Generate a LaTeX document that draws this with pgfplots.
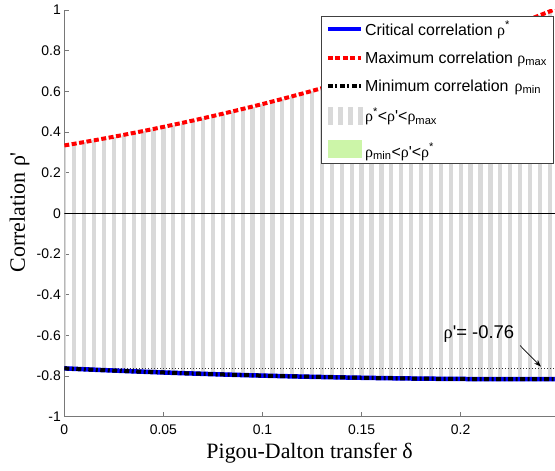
\documentclass[border=0pt]{standalone}
\usepackage{fontspec}
\setmainfont{Liberation Sans}
\newfontfamily\tnr{Liberation Serif}
\usepackage{pgfplots}
\pgfplotsset{compat=1.18}
\usepackage{pgfplotstable}
\usetikzlibrary{calc, arrows.meta}

\definecolor{stripe}{RGB}{217,217,217}
\definecolor{lgreen}{RGB}{204,245,168}
\definecolor{axgray}{RGB}{120,120,120}

% delta, rho_max, rho* (= rho_min)
\pgfplotstableread{
d      rmax    rcrit
0.000  0.3340  -0.7620
0.005  0.3422  -0.7642
0.010  0.3506  -0.7664
0.015  0.3592  -0.7685
0.020  0.3680  -0.7706
0.025  0.3770  -0.7727
0.030  0.3862  -0.7746
0.035  0.3957  -0.7766
0.040  0.4053  -0.7785
0.045  0.4151  -0.7803
0.050  0.4254  -0.7821
0.055  0.4356  -0.7839
0.060  0.4461  -0.7856
0.065  0.4568  -0.7872
0.070  0.4677  -0.7888
0.075  0.4788  -0.7904
0.080  0.4901  -0.7919
0.085  0.5017  -0.7934
0.090  0.5135  -0.7948
0.095  0.5255  -0.7962
0.100  0.5377  -0.7975
0.105  0.5501  -0.7988
0.110  0.5628  -0.8000
0.115  0.5758  -0.8012
0.120  0.5889  -0.8023
0.125  0.6022  -0.8034
0.130  0.6157  -0.8044
0.135  0.6296  -0.8054
0.140  0.6436  -0.8064
0.145  0.6578  -0.8073
0.150  0.6725  -0.8081
0.155  0.6872  -0.8089
0.160  0.7021  -0.8097
0.165  0.7173  -0.8104
0.170  0.7328  -0.8110
0.175  0.7484  -0.8117
0.180  0.7643  -0.8122
0.185  0.7805  -0.8127
0.190  0.7968  -0.8132
0.195  0.8135  -0.8136
0.200  0.8304  -0.8140
0.205  0.8474  -0.8143
0.210  0.8649  -0.8146
0.215  0.8824  -0.8148
0.220  0.9003  -0.8150
0.225  0.9184  -0.8152
0.230  0.9368  -0.8152
0.235  0.9553  -0.8153
0.240  0.9742  -0.8153
0.245  0.9933  -0.8152
0.2476 1.0035  -0.8152
}\datatable

\begin{document}
\begin{tikzpicture}
\begin{axis}[
  scale only axis,
  width=490.7bp, height=406.8bp,
  xmin=0, xmax=0.2476,
  ymin=-1, ymax=1,
  xtick={0,0.05,0.1,0.15,0.2},
  xticklabels={0,0.05,0.1,0.15,0.2},
  ytick={-1,-0.8,-0.6,-0.4,-0.2,0,0.2,0.4,0.6,0.8,1},
  yticklabels={-1,-0.8,-0.6,-0.4,-0.2,0,0.2,0.4,0.6,0.8,1},
  axis x line*=bottom, axis y line*=left,
  axis line style={axgray, line width=0.8bp},
  tick style={axgray, line width=0.8bp},
  tick align=inside,
  major tick length=5bp,
  tick label style={font=\fontsize{14}{16}\selectfont},
  xticklabel style={yshift=-4.5bp},
  xlabel={Pigou-Dalton transfer δ},
  ylabel={Correlation ρ\textquotesingle},
  label style={font=\tnr\fontsize{22}{24}\selectfont},
  xlabel style={at={($(rel axis cs:0.5,0)+(0,-41.5bp)$)}, anchor=base},
  ylabel style={at={($(rel axis cs:0,0.503)+(-39.3bp,0)$)}, anchor=base},
  legend image code/.code={\draw[#1] (0bp,0bp) -- (33bp,0bp);},
  legend cell align=left,
  legend style={at={(rel axis cs:0.9965,0.9853)}, anchor=north east,
    draw=black!75, line width=0.6bp, fill=white,
    font=\fontsize{16}{19}\selectfont,
    inner xsep=4bp, inner ysep=3bp,
    row sep=11bp,
    nodes={inner sep=2bp}},
]
\coordinate (O) at (rel axis cs:0,0);
% gray stripes between rho* and rho_max
\addplot[ycomb, stripe, line width=4.3bp, forget plot, restrict x to domain=0:0.2455]
  table[x=d, y=rmax] {\datatable};
\addplot[ycomb, stripe, line width=4.3bp, forget plot, restrict x to domain=0:0.2455]
  table[x=d, y=rcrit] {\datatable};
\addplot[black, line width=0.9bp, forget plot] coordinates {(0,0) (0.2476,0)};
\addplot[black!80, line width=0.7bp, dash pattern=on 1bp off 2bp, forget plot]
  coordinates {(0,-0.76) (0.2476,-0.76)};

\addplot[blue, line width=4.5bp] table[x=d, y=rcrit] {\datatable};
\addlegendentry{Critical correlation {\tnr ρ}\textsuperscript{*}}
\addplot[red, line width=4bp, dash pattern=on 5bp off 2.5bp] table[x=d, y=rmax] {\datatable};
\addlegendentry{Maximum correlation {\tnr ρ}\textsubscript{max}}
\addplot[black, line width=4bp, dash pattern=on 5bp off 2.5bp on 2bp off 2.5bp]
  table[x=d, y=rcrit] {\datatable};
\addlegendentry{Minimum correlation\hspace{6bp}{\tnr ρ}\textsubscript{min}}
\addlegendimage{legend image code/.code={
  \foreach \s in {0,10,20,30} \fill[stripe] (\s bp,-8.5bp) rectangle ++(4.3bp,17bp);}}
\addlegendentry{{\tnr ρ}\textsuperscript{*}<{\tnr ρ}\textquotesingle<{\tnr ρ}\textsubscript{max}}
\addlegendimage{legend image code/.code={
  \fill[lgreen] (0bp,-8.5bp) rectangle (33bp,8.5bp);}}
\addlegendentry{\rule{0pt}{19bp}{\tnr ρ}\textsubscript{min}<{\tnr ρ}\textquotesingle<{\tnr ρ}\textsuperscript{*}}

\node[font=\fontsize{18.5}{20}\selectfont] at (axis cs:0.2092,-0.593)
  {{\tnr ρ}\textquotesingle= -0.76};
\draw[black, line width=0.7bp, -{Stealth[length=7bp, width=5bp]}]
  (axis cs:0.2300,-0.650) -- (axis cs:0.2405,-0.7535);
\end{axis}
\pgfresetboundingbox
\path[use as bounding box] ($(O)+(-64.3bp,-54.2bp)$) rectangle ($(O)+(490.7bp,416.8bp)$);
\end{tikzpicture}
\end{document}
